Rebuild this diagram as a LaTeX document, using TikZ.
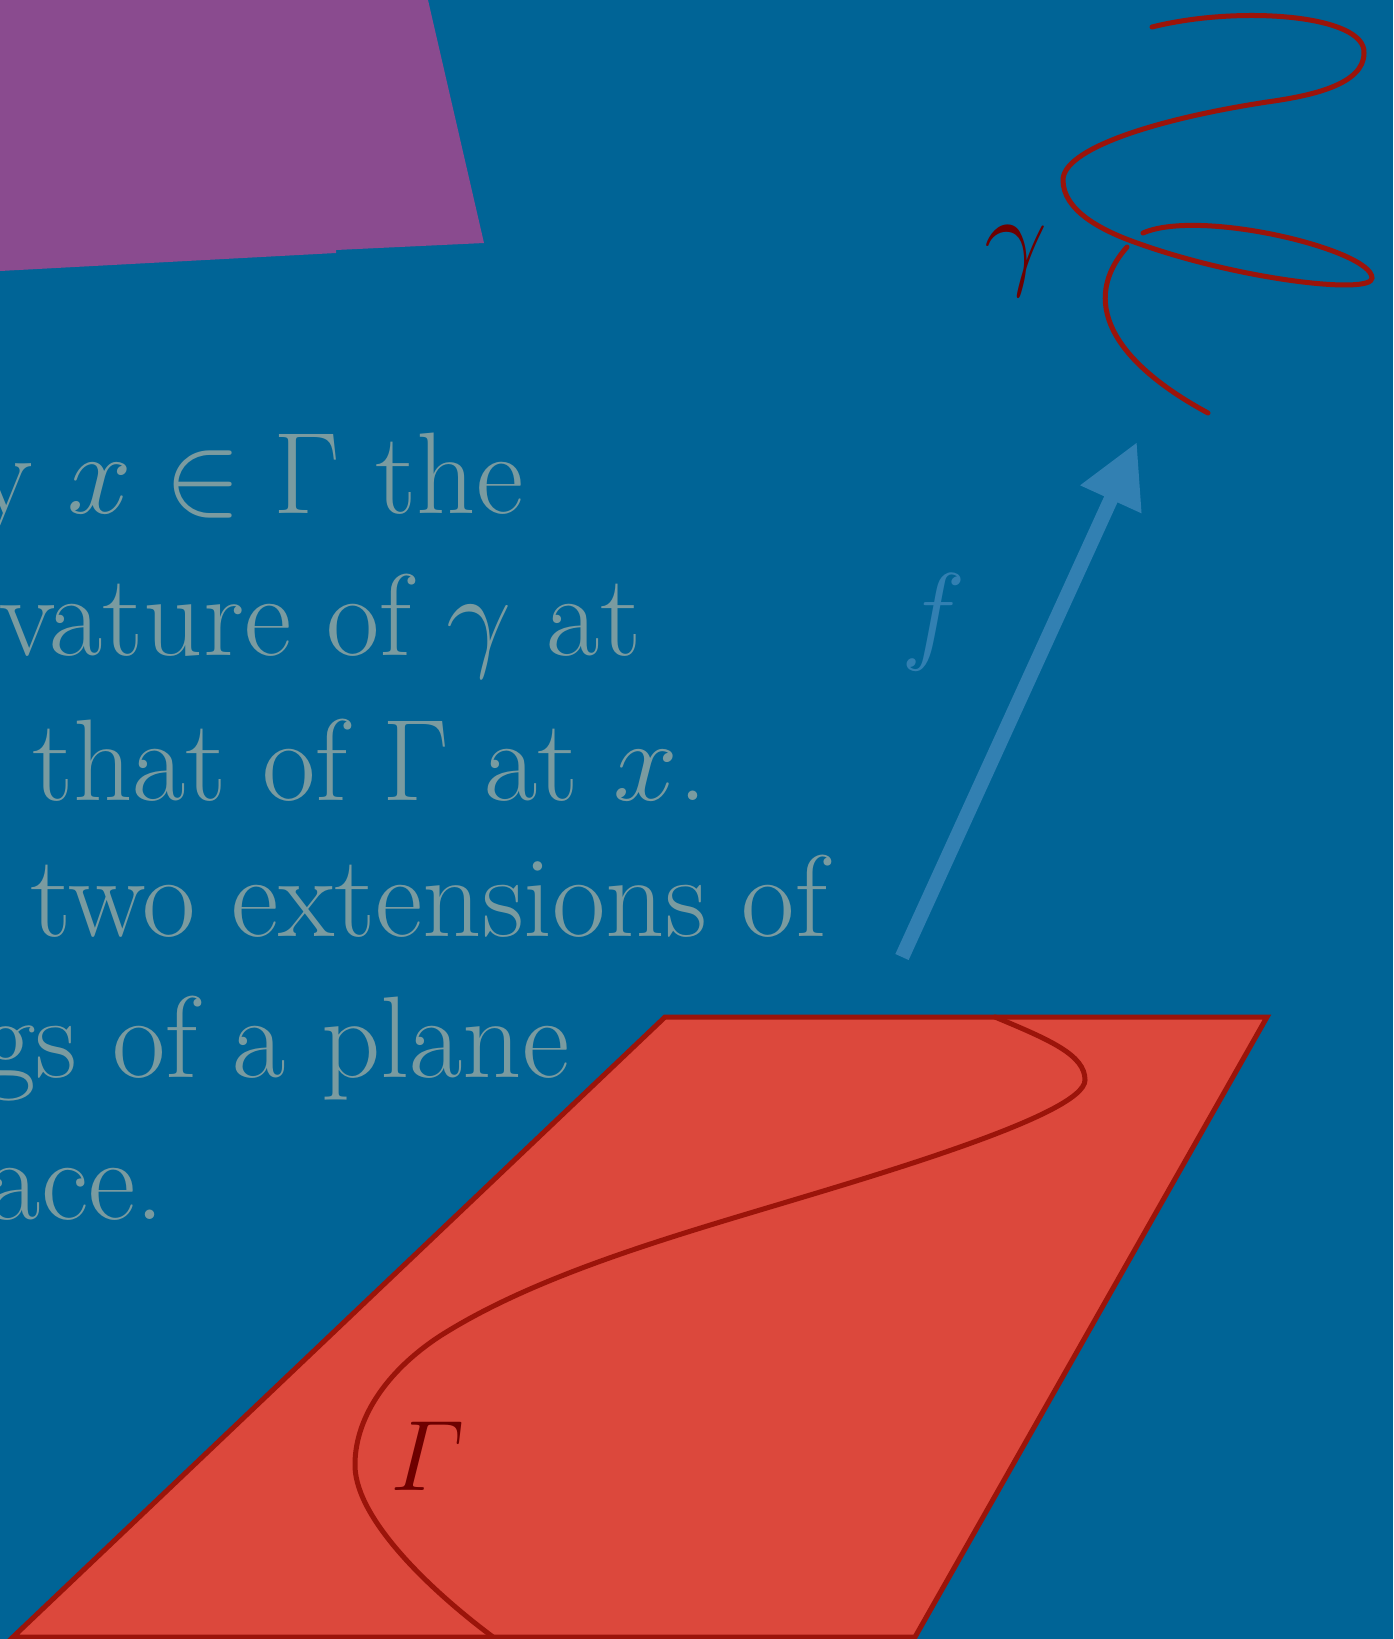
\RequirePackage{fix-cm}
\documentclass[tikz,border=0pt]{standalone}
\usepackage{amsmath}
\usetikzlibrary{arrows.meta}

\definecolor{bgblue}{RGB}{0,100,150}
\definecolor{plum}{RGB}{138,75,143}
\definecolor{sheetred}{RGB}{220,72,60}
\definecolor{rimred}{RGB}{155,20,10}
\definecolor{inkred}{RGB}{110,0,0}
\definecolor{prosegray}{RGB}{122,155,160}
\definecolor{mapblue}{RGB}{50,128,178}

\begin{document}
\begin{tikzpicture}[
    x=0.01cm, y=-0.01cm,
    prose/.style={text=prosegray, font=\fontsize{33}{40}\selectfont,
        anchor=base east, inner sep=0pt},
    rimline/.style={draw=rimred, line width=0.05cm, line cap=round},
    curvelabel/.style={text=inkred, inner sep=0pt},
    maparrow/.style={-{Triangle[length=0.63cm, width=0.63cm]},
        line width=0.146cm, mapblue}
]
\useasboundingbox (0,0) rectangle (1393,1639);
\clip (0,0) rectangle (1393,1639);
\fill[bgblue] (0,0) rectangle (1393,1639);
%
\fill[plum] (0,0) -- (428,0) -- (484,243) -- (336,250) -- (336,253)
    -- (0,271) -- cycle;
%
\node[prose] (row1) at (524,513) {y $x\in\Gamma$ the};
\node[prose] (row2) at (642,655) {vature of $\gamma$ at};
\node[prose] (row3) at (708,800) {n that of $\Gamma$ at $x$.};
\node[prose] (row4) at (828,936) {two extensions of};
\node[prose] (row5) at (570,1077) {gs of a plane};
\node[prose] (row6) at (165,1219) {ace.};
%
\filldraw[rimline, fill=sheetred, line join=miter]
    (665,1017) -- (1267,1017) -- (915,1637) -- (13,1637) -- cycle;
\draw[rimline] (995,1017) .. controls (1050,1040) and (1085,1055) .. (1085,1080)
    .. controls (1085,1115) and (870,1177) .. (750,1213)
    .. controls (640,1246) and (525,1282) .. (440,1336)
    .. controls (385,1372) and (354,1420) .. (355,1467)
    .. controls (357,1520) and (430,1590) .. (493,1637);
\node[curvelabel, font=\fontsize{28.5}{30}\selectfont] (Gammalabel)
    at (428,1456) {$\varGamma$};
%
\coordinate (ftail) at (902,957);
\coordinate (fhead) at (1137,442);
\draw[maparrow] (ftail) -- (fhead);
\node[text=mapblue, inner sep=0pt, font=\fontsize{31}{33}\selectfont]
    (flabel) at (934,622) {$f$};
%
\draw[rimline] (1152,27) .. controls (1240,5) and (1366,15) .. (1364,53)
    .. controls (1364,85) and (1310,96) .. (1267,102)
    .. controls (1150,120) and (1063,150) .. (1063,180)
    .. controls (1063,210) and (1100,230) .. (1137,243)
    .. controls (1240,280) and (1372,295) .. (1372,278)
    .. controls (1372,250) and (1200,208) .. (1143,233);
\draw[rimline] (1127,247) .. controls (1080,300) and (1110,360) .. (1208,413);
\node[curvelabel, font=\fontsize{32}{34}\selectfont] (gammalabel)
    at (1016,261) {$\gamma$};
\end{tikzpicture}
\end{document}
